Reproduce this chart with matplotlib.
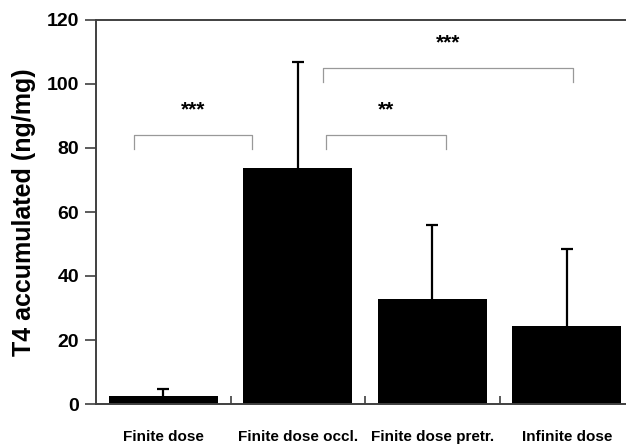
import matplotlib
matplotlib.use("Agg")
from matplotlib import pyplot as plt

groups = ["Finite dose", "Finite dose occl.", "Finite dose pretr.", "Infinite dose"]
means = [2.5, 73.6, 32.8, 24.5]
sd_up = [2.2, 33.3, 23.2, 24.0]

# significance brackets: (x start, x end, y, label)
brackets = [(-0.22, 0.66, 84.0, "***"),
            (1.21, 2.10, 84.0, "**"),
            (1.19, 3.05, 105.0, "***")]

plt.rcParams["font.family"] = ["Liberation Sans", "DejaVu Sans"]
plt.rcParams["font.weight"] = "bold"

fig = plt.figure(figsize=(6.26, 4.44), dpi=100)
ax = fig.add_axes([96 / 626, 40 / 444, 538 / 626, 384 / 444])

x = list(range(len(groups)))
ax.bar(x, means, width=0.81, color="black", edgecolor="none", zorder=2)
eb = ax.errorbar(x, means, yerr=[[0] * len(groups), sd_up], fmt="none",
                 ecolor="black", elinewidth=1.6, capsize=4, capthick=1.6, zorder=3)
eb[1][0].set_visible(False)  # only the upper cap

for x0, x1, y, lab in brackets:
    ax.plot([x0, x0, x1, x1], [y - 4.3, y, y, y - 4.3], color="#999999", lw=0.9)
    ax.text((x0 + x1) / 2, y + 8.0, lab, ha="center", va="center",
            fontsize=15, fontweight="bold")

ax.set_xlim(-0.5, 3.5)
ax.set_ylim(0, 120)
ax.set_yticks(range(0, 121, 20))
ax.set_xticks(x)
ax.set_xticklabels(groups, fontsize=11, fontweight="bold")
ax.set_xticks([0.5, 1.5, 2.5], minor=True)
ax.tick_params(axis="x", which="major", length=0, pad=19)
ax.tick_params(axis="x", which="minor", direction="in", length=6, width=1.2, color="#404040")
ax.tick_params(axis="y", direction="out", length=8, width=1.2, color="#404040",
               labelsize=14, pad=4)
ax.set_ylabel("T4 accumulated (ng/mg)", fontsize=18, fontweight="bold", labelpad=8)

for side in ["left", "bottom", "top"]:
    ax.spines[side].set_color("#404040")
    ax.spines[side].set_linewidth(1.4)
ax.spines["right"].set_visible(False)

fig.savefig("out.png", dpi=100)
